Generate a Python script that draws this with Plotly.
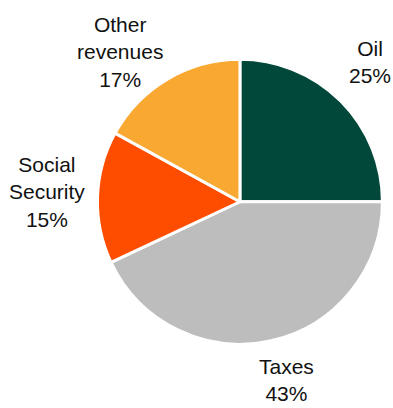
import plotly.graph_objects as go

labels = ["Oil", "Taxes", "Social Security", "Other revenues"]
values = [25, 43, 15, 17]
colors = ["#02483A", "#BDBDBD", "#FF4D00", "#F9A832"]
label_text = ["Oil", "Taxes", "Social<br>Security", "Other<br>revenues"]
# label placement (paper coords)
label_pos = [(0.941, 0.848), (0.730, 0.069), (0.120, 0.529), (0.305, 0.873)]

fig = go.Figure(go.Pie(
    labels=labels, values=values, sort=False, direction="clockwise", rotation=0,
    marker=dict(colors=colors, line=dict(color="white", width=3)),
    textinfo="none", hoverinfo="label+percent",
    domain=dict(x=[0.248, 0.973], y=[0.156, 0.855]),
    showlegend=False,
))

total = sum(values)
anns = []
for t, v, (x, y) in zip(label_text, values, label_pos):
    anns.append(dict(x=x, y=y, xref="paper", yref="paper", showarrow=False,
                     text=f"{t}<br>{round(100*v/total)}%", xanchor="center", yanchor="middle",
                     font=dict(family="Liberation Sans, Arial", size=21, color="#111111")))

fig.update_layout(width=393, height=408, margin=dict(l=0, r=0, t=0, b=0),
                  paper_bgcolor="white", plot_bgcolor="white", annotations=anns)
fig.write_html("out.html", config={"displayModeBar": False},
               post_script="document.body.style.margin='0';document.body.style.overflow='hidden';")
